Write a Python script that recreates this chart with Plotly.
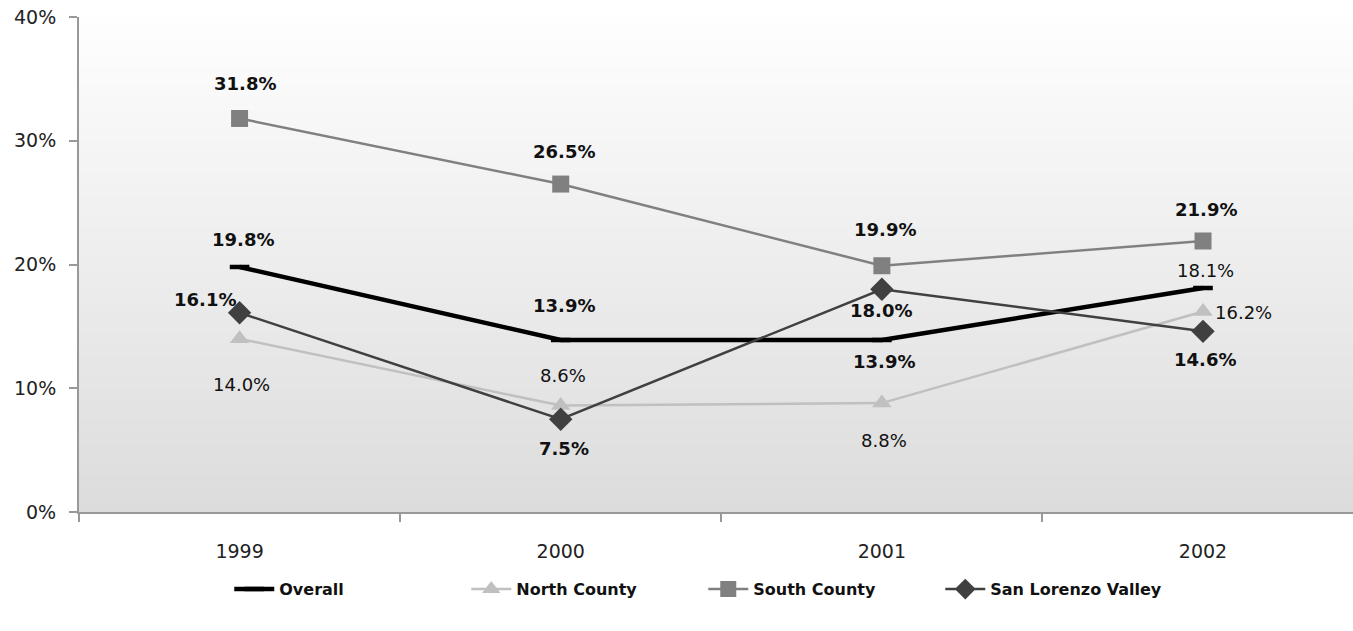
import plotly.graph_objects as go

# ---- data ----
years = ["1999", "2000", "2001", "2002"]
overall = [19.8, 13.9, 13.9, 18.1]
north_county = [14.0, 8.6, 8.8, 16.2]
south_county = [31.8, 26.5, 19.9, 21.9]
san_lorenzo = [16.1, 7.5, 18.0, 14.6]
y_tick_vals = [0, 10, 20, 30, 40]
y_tick_text = ["0%", "10%", "20%", "30%", "40%"]

FONT = "Century Gothic, DejaVu Sans, sans-serif"
W, H = 1353, 631

series = [
    dict(name="Overall", y=overall, color="#000000", lw=4.5,
         marker=dict(symbol="line-ew", size=14, line=dict(width=4.5, color="#000000"))),
    dict(name="North County", y=north_county, color="#c0c0c0", lw=2.5,
         marker=dict(symbol="triangle-up", size=17, color="#c0c0c0")),
    dict(name="South County", y=south_county, color="#808080", lw=2.5,
         marker=dict(symbol="square", size=17, color="#808080")),
    dict(name="San Lorenzo Valley", y=san_lorenzo, color="#404040", lw=2.5,
         marker=dict(symbol="diamond", size=18, color="#404040")),
]

# label offsets (xshift, yshift px) and weight per point -- styling only
label_style = {
    "Overall": [(3, 27, True), (3, 34, True), (2, -22, True), (2, 18, False)],
    "North County": [(2, -46, False), (2, 30, False), (2, -37, False), (40, -1, False)],
    "South County": [(5, 35, True), (3, 33, True), (3, 36, True), (3, 31, True)],
    "San Lorenzo Valley": [(-35, 13, True), (3, -29, True), (-1, -21, True), (2, -28, True)],
}

fig = go.Figure()
annotations = []
for s in series:
    fig.add_trace(go.Scatter(
        x=years, y=s["y"], name=s["name"], mode="lines+markers",
        line=dict(color=s["color"], width=s["lw"]),
        marker=s["marker"],
    ))
    for xi, (yr, v) in enumerate(zip(years, s["y"])):
        dx, dy, bold = label_style[s["name"]][xi]
        txt = f"{v:.1f}%"
        if bold:
            txt = f"<b>{txt}</b>"
        annotations.append(dict(
            x=xi, y=v, xref="x", yref="y", text=txt, showarrow=False,
            xshift=dx, yshift=dy,
            font=dict(family=FONT, size=18, color="#111111"),
        ))

# gradient plot background (white top -> light gray bottom)
shapes = []
n = 80
top = (254, 254, 254)
bot = (220, 220, 220)
for i in range(n):
    t = (i + 0.5) / n
    c = tuple(round(bot[k] + (top[k] - bot[k]) * t) for k in range(3))
    shapes.append(dict(
        type="rect", xref="paper", yref="paper",
        x0=0, x1=1, y0=i / n, y1=min(1, (i + 1.6) / n),
        fillcolor=f"rgb{c}", line=dict(width=0), layer="below",
    ))

fig.update_layout(
    width=W, height=H,
    margin=dict(l=79, r=0, t=17, b=119),
    paper_bgcolor="white", plot_bgcolor="rgba(0,0,0,0)",
    font=dict(family=FONT, size=18, color="#222222"),
    shapes=shapes,
    annotations=annotations,
    showlegend=True,
    legend=dict(
        orientation="h", x=0.49, xanchor="center", y=-0.156, yanchor="middle",
        font=dict(family=FONT, size=16, color="#111111", weight="bold"),
        itemwidth=40, entrywidth=182, entrywidthmode="pixels",
        bgcolor="rgba(0,0,0,0)",
    ),
)
fig.update_xaxes(
    type="category", range=[-0.5, 3.467],
    showgrid=False, zeroline=False,
    showline=True, linecolor="#999999", linewidth=2,
    ticks="outside", tickson="boundaries", ticklen=8, tickwidth=2, tickcolor="#999999",
    tickfont=dict(family=FONT, size=19, color="#222222"),
    ticklabelstandoff=21, ticklabeloverflow="allow",
)
fig.update_yaxes(
    range=[0, 40], tickvals=y_tick_vals, ticktext=y_tick_text,
    showgrid=False, zeroline=False,
    showline=True, linecolor="#999999", linewidth=2,
    ticks="outside", ticklen=8, tickwidth=2, tickcolor="#999999",
    tickfont=dict(family=FONT, size=19, color="#222222"),
    ticklabelstandoff=9, ticklabeloverflow="allow",
)

fig.write_html(
    "out.html",
    config={"displayModeBar": False},
    post_script="document.body.style.margin='0';document.body.style.overflow='hidden';",
)
